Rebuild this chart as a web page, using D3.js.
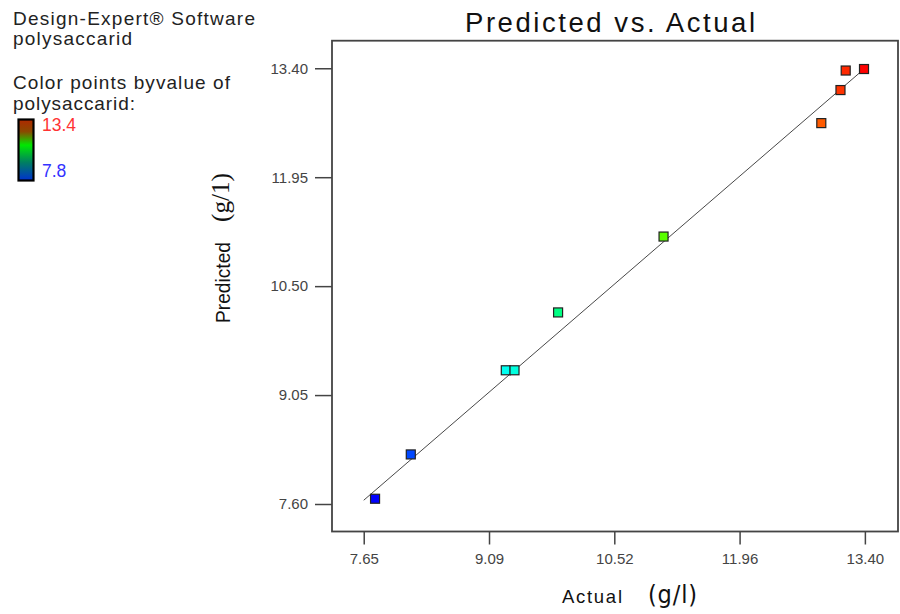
<!DOCTYPE html>
<html>
<head>
<meta charset="utf-8">
<script src="https://cdn.jsdelivr.net/npm/d3@7"></script>
<style>
  html, body { margin: 0; padding: 0; background: #fff; }
  svg { display: block; font-family: "Liberation Sans", Arial, sans-serif; }
</style>
</head>
<body>
<svg id="chart" width="900" height="614"></svg>
<script>
// ---- data ----
const actual    = [7.78, 8.19, 9.28, 9.38, 9.88, 11.09, 12.90, 13.12, 13.18, 13.39];
const predicted = [7.67, 8.26, 9.38, 9.38, 10.15, 11.16, 12.67, 13.11, 13.37, 13.39];
const xTicks = [7.65, 9.0875, 10.525, 11.9625, 13.40];
const xTickLabels = ["7.65", "9.09", "10.52", "11.96", "13.40"];
const yTicks = [7.60, 9.05, 10.50, 11.95, 13.40];
const yTickLabels = ["7.60", "9.05", "10.50", "11.95", "13.40"];
const fitLine = [7.65, 13.43];
const colorRange = [7.8, 13.4];
const legendLines = ["Design-Expert\u00AE Software", "polysaccarid", "Color points byvalue of", "polysaccarid:"];

// ---- layout ----
const svg = d3.select("#chart");
const L = 332, R = 898, T = 40.7, B = 531.5;
const x = d3.scaleLinear().domain([7.286, 13.78]).range([L, R]);
const y = d3.scaleLinear().domain([7.234, 13.767]).range([B, T]);
const hue = d3.scaleLinear().domain(colorRange).range([240, 0]).clamp(true);
const colorOf = v => d3.hsl(hue(v), 1, 0.5).formatHex();

// legend text
const legendY = [25, 45, 89, 110];
const legendW = [242, 119, 217, 122];
const lg = svg.append("g").attr("fill", "#222").style("font-size", "19px");
legendLines.forEach((t, i) => {
  lg.append("text").attr("x", 13).attr("y", legendY[i])
    .attr("textLength", legendW[i]).attr("lengthAdjust", "spacing").text(t);
});

// legend gradient bar
const defs = svg.append("defs");
const grad = defs.append("linearGradient").attr("id", "lgGrad")
  .attr("x1", 0).attr("y1", 0).attr("x2", 0).attr("y2", 1);
[[0, "#b02800"], [0.2, "#8a4a00"], [0.42, "#00e800"], [0.7, "#008060"], [1, "#0030d0"]]
  .forEach(([o, c]) => grad.append("stop").attr("offset", o).attr("stop-color", c));
svg.append("rect").attr("x", 18.5).attr("y", 119.5).attr("width", 15).attr("height", 61)
  .attr("fill", "url(#lgGrad)").attr("stroke", "#000").attr("stroke-width", 2.2);
svg.append("text").attr("x", 42).attr("y", 131).attr("fill", "#ff3333")
  .style("font-size", "17.5px").text(d3.max(colorRange).toFixed(1));
svg.append("text").attr("x", 42).attr("y", 177).attr("fill", "#3333ff")
  .style("font-size", "17.5px").text(d3.min(colorRange).toFixed(1));

// title
svg.append("text").attr("x", 465).attr("y", 32).attr("fill", "#111")
  .style("font-size", "27.5px").attr("textLength", 290).attr("lengthAdjust", "spacing")
  .text("Predicted vs. Actual");

// axes
const xAxis = d3.axisBottom(x).tickValues(xTicks)
  .tickFormat((d, i) => xTickLabels[i]).tickSize(13).tickPadding(9).tickSizeOuter(0);
const yAxis = d3.axisLeft(y).tickValues(yTicks)
  .tickFormat((d, i) => yTickLabels[i]).tickSize(17).tickPadding(7).tickSizeOuter(0);

const gx = svg.append("g").attr("transform", `translate(0,${B})`).call(xAxis);
const gy = svg.append("g").attr("transform", `translate(${L},0)`).call(yAxis);
[gx, gy].forEach(g => {
  g.select(".domain").remove();
  g.selectAll(".tick line").attr("stroke", "#444").attr("stroke-width", 1.5);
  g.selectAll(".tick text").attr("fill", "#444")
    .style("font-size", "15px").style("font-family", "'Liberation Sans', Arial, sans-serif");
});

// frame
svg.append("rect").attr("x", L).attr("y", T).attr("width", R - L).attr("height", B - T)
  .attr("fill", "none").attr("stroke", "#444").attr("stroke-width", 1.8);

// fit line
svg.append("line")
  .attr("x1", x(fitLine[0])).attr("y1", y(fitLine[0]))
  .attr("x2", x(fitLine[1])).attr("y2", y(fitLine[1]))
  .attr("stroke", "#333").attr("stroke-width", 0.9);

// points
const pts = actual.map((a, i) => ({a, p: predicted[i]}));
const s = 9;
svg.append("g").selectAll("rect").data(pts).join("rect")
  .attr("x", d => x(d.a) - s / 2).attr("y", d => y(d.p) - s / 2)
  .attr("width", s).attr("height", s)
  .attr("fill", d => colorOf(d.a)).attr("stroke", "#222").attr("stroke-width", 1.2);

// x label
const xl = svg.append("text").attr("y", 603).attr("fill", "#111");
xl.append("tspan").attr("x", 562).style("font-size", "18.5px")
  .attr("textLength", 60).attr("lengthAdjust", "spacing").text("Actual");
xl.append("tspan").attr("x", 648).style("font-size", "25px")
  .style("font-family", "'Liberation Sans Narrow', 'DejaVu Sans Condensed', sans-serif")
  .attr("textLength", 49).attr("lengthAdjust", "spacing").text("(g/l)");

// y label
const yl = svg.append("text").attr("transform", "translate(230,0) rotate(-90)").attr("fill", "#111");
yl.append("tspan").attr("x", -323).attr("y", 0).style("font-size", "19.5px")
  .attr("textLength", 81).attr("lengthAdjust", "spacingAndGlyphs").text("Predicted");
yl.append("tspan").attr("x", -222).attr("y", -1).style("font-size", "25px")
  .style("font-family", "'Liberation Serif', 'DejaVu Serif', serif")
  .attr("textLength", 49).attr("lengthAdjust", "spacingAndGlyphs").text("(g/1)");
</script>
</body>
</html>
